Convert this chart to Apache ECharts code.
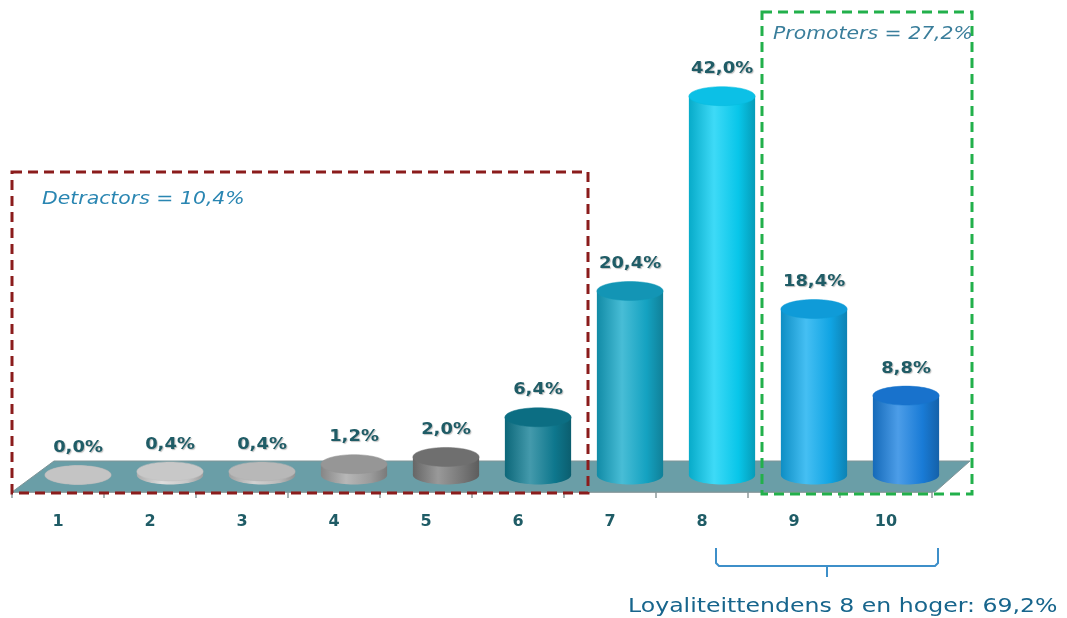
<!DOCTYPE html>
<html>
<head>
<meta charset="utf-8">
<script src="https://cdn.jsdelivr.net/npm/echarts@6/dist/echarts.min.js"></script>
<style>
html,body{margin:0;padding:0;background:#fff;}
#c{width:1067px;height:618px;}
</style>
</head>
<body>
<div id="c"></div>
<script>
const categories = ['1','2','3','4','5','6','7','8','9','10'];
const values = [0.0, 0.4, 0.4, 1.2, 2.0, 6.4, 20.4, 42.0, 18.4, 8.8];
const valueLabels = ['0,0%','0,4%','0,4%','1,2%','2,0%','6,4%','20,4%','42,0%','18,4%','8,8%'];
const barColors = ['#cfcfcf','#d3d3d3','#c4c4c4','#a3a3a3','#7c7c7c','#0f7d94','#15aacb','#08d0f5','#11adef','#1a81e1'];
const topColors = ['#c4c4c4','#c8c8c8','#b8b8b8','#969696','#6f6f6f','#0c6e83','#1395b5','#0cc0e6','#0f9bd8','#1872cc'];
const detractorText = 'Detractors = 10,4%';
const promoterText = 'Promoters = 27,2%';
const loyaltyText = 'Loyaliteittendens 8 en hoger: 69,2%';

const DX = 20, DY = -17;

function shade(hex, f) {
  const n = parseInt(hex.slice(1), 16);
  let r = (n >> 16) & 255, g = (n >> 8) & 255, b = n & 255;
  if (f >= 0) { r += (255 - r) * f; g += (255 - g) * f; b += (255 - b) * f; }
  else { r *= (1 + f); g *= (1 + f); b *= (1 + f); }
  return 'rgb(' + Math.round(r) + ',' + Math.round(g) + ',' + Math.round(b) + ')';
}

const chart = echarts.init(document.getElementById('c'));
chart.setOption({
  animation: false,
  backgroundColor: '#ffffff',
  grid: { left: 12, right: 135, top: 41, bottom: 126 },
  xAxis: {
    type: 'category',
    data: categories,
    axisLine: { show: true, lineStyle: { color: '#8e9a9c', width: 1.5 } },
    axisTick: { show: true, length: 6, lineStyle: { color: '#8e9a9c', width: 1.5 } },
    axisLabel: { margin: 22, color: '#1f5c66', fontFamily: 'DejaVu Sans', fontWeight: 'bold', fontSize: 16 }
  },
  yAxis: { type: 'value', min: 0, max: 50, show: false, splitLine: { show: false } },
  series: [
    {
      type: 'custom',
      z: 1,
      data: [[0, 0]],
      renderItem: function (params, api) {
        const cs = params.coordSys;
        const bl = [cs.x, cs.y + cs.height];
        const br = [cs.x + cs.width + 3, cs.y + cs.height];
        const tr = [cs.x + cs.width + 38, cs.y + cs.height - 31];
        const tl = [cs.x + 42, cs.y + cs.height - 31];
        return {
          type: 'polygon',
          shape: { points: [bl, br, tr, tl] },
          style: { fill: '#6a9ea7', stroke: '#7f9497', lineWidth: 1 }
        };
      }
    },
    {
      type: 'custom',
      z: 3,
      data: values.map((v, i) => [i, v]),
      renderItem: function (params, api) {
        const i = api.value(0), v = api.value(1);
        const base = api.coord([i, 0]);
        const top = api.coord([i, v]);
        const bw = api.size([1, 0])[0];
        const rx = bw * 0.36, ry = 9.5;
        const cx = base[0] + DX;
        const by = base[1] + DY;
        const ty = top[1] + DY;
        const c = barColors[i];
        const grad = new echarts.graphic.LinearGradient(0, 0, 1, 0, [
          { offset: 0, color: shade(c, -0.18) },
          { offset: 0.38, color: shade(c, 0.22) },
          { offset: 0.75, color: shade(c, -0.05) },
          { offset: 1, color: shade(c, -0.25) }
        ]);
        const children = [
          { type: 'ellipse', shape: { cx: cx, cy: by, rx: rx, ry: ry }, style: { fill: grad } },
          { type: 'rect', shape: { x: cx - rx, y: ty, width: rx * 2, height: Math.max(0, by - ty) }, style: { fill: grad } },
          { type: 'ellipse', shape: { cx: cx, cy: ty, rx: rx, ry: ry }, style: { fill: topColors[i], stroke: shade(c, -0.1), lineWidth: 0.5 } },
          { type: 'text', x: cx, y: ty - 27, scaleX: 1.12, style: {
              text: valueLabels[i], align: 'center', verticalAlign: 'middle',
              fill: '#1f5c66', font: 'bold 16px "DejaVu Sans"',
              textShadowColor: 'rgba(0,0,0,0.25)', textShadowBlur: 1, textShadowOffsetX: 1, textShadowOffsetY: 1
            } }
        ];
        return { type: 'group', children: children };
      }
    }
  ],
  graphic: [
    { type: 'rect', z: 10, shape: { x: 12, y: 172, width: 576, height: 321 },
      style: { fill: 'none', stroke: '#8b1c1c', lineWidth: 3, lineDash: [10, 6] } },
    { type: 'rect', z: 10, shape: { x: 762, y: 12, width: 210, height: 482 },
      style: { fill: 'none', stroke: '#22b04b', lineWidth: 3, lineDash: [10, 6] } },
    { type: 'text', z: 11, x: 42, y: 200, scaleX: 1.2, style: { text: detractorText, fill: '#2a86b2', font: 'italic 17px "DejaVu Sans"', verticalAlign: 'middle' } },
    { type: 'text', z: 11, x: 773, y: 35, scaleX: 1.2, style: { text: promoterText, fill: '#3a7e9b', font: 'italic 17px "DejaVu Sans"', verticalAlign: 'middle' } },
    { type: 'polyline', z: 11, shape: { points: [[716, 548], [716, 563], [719, 566], [935, 566], [938, 563], [938, 548]] },
      style: { fill: 'none', stroke: '#3d8fc9', lineWidth: 2 } },
    { type: 'line', z: 11, shape: { x1: 827, y1: 566, x2: 827, y2: 577 }, style: { stroke: '#3d8fc9', lineWidth: 2 } },
    { type: 'text', z: 11, x: 628, y: 607, scaleX: 1.18, style: { text: loyaltyText, fill: '#17658c', font: '20px "DejaVu Sans"', verticalAlign: 'middle' } }
  ]
});
</script>
</body>
</html>
